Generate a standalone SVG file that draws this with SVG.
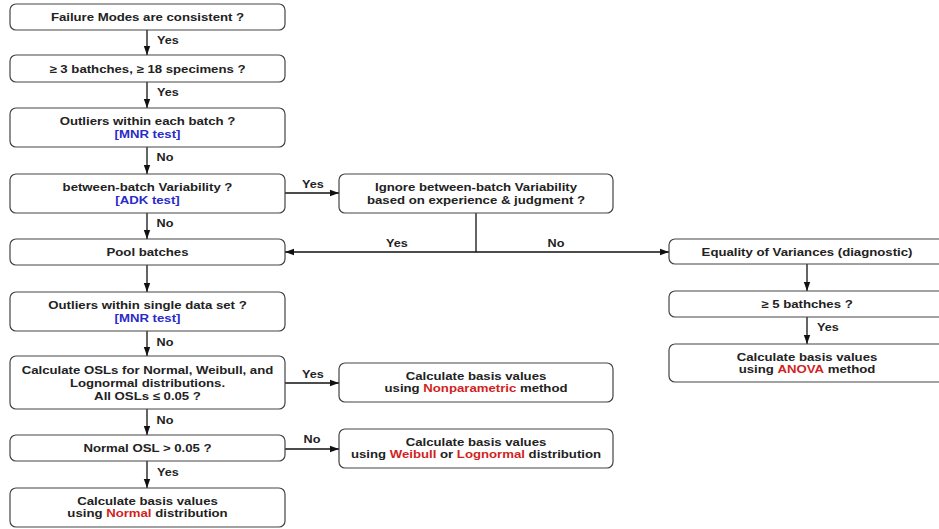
<svg xmlns="http://www.w3.org/2000/svg" width="939" height="529" viewBox="0 0 939 529">
<defs>
<marker id="ah" markerWidth="10" markerHeight="8" refX="9" refY="4" orient="auto" markerUnits="userSpaceOnUse">
<path d="M0,0.8 L9,4 L0,7.2 Z" fill="#111"/>
</marker>
<style>
.box{fill:#fff;stroke:#444;stroke-width:1.2}
.t{font-family:"Liberation Sans",Arial,sans-serif;font-size:11px;font-weight:bold;fill:#222;text-anchor:middle}
.l{font-family:"Liberation Sans",Arial,sans-serif;font-size:11px;font-weight:bold;fill:#222;text-anchor:middle}
.b{fill:#2a2ac8}
.r{fill:#d21f1f}
.c{fill:none;stroke:#111;stroke-width:1.3}
.ca{fill:none;stroke:#111;stroke-width:1.3;marker-end:url(#ah)}
</style>
</defs>
<rect width="939" height="529" fill="#fff"/>

<g id="connectors">
<line class="ca" x1="147" y1="30" x2="147" y2="55"/>
<line class="ca" x1="147" y1="82" x2="147" y2="108"/>
<line class="ca" x1="147" y1="147" x2="147" y2="174"/>
<line class="ca" x1="147" y1="213" x2="147" y2="239"/>
<line class="ca" x1="147" y1="265" x2="147" y2="292"/>
<line class="ca" x1="147" y1="331" x2="147" y2="356"/>
<line class="ca" x1="147" y1="409" x2="147" y2="435"/>
<line class="ca" x1="147" y1="461" x2="147" y2="488"/>
<line class="ca" x1="285" y1="193" x2="339" y2="193"/>
<line class="c" x1="476" y1="213" x2="476" y2="252"/>
<line class="ca" x1="476" y1="252" x2="285" y2="252"/>
<line class="ca" x1="476" y1="252" x2="669" y2="252"/>
<line class="ca" x1="285" y1="383" x2="339" y2="383"/>
<line class="ca" x1="285" y1="449" x2="339" y2="449"/>
<line class="ca" x1="807" y1="264" x2="807" y2="291"/>
<line class="ca" x1="807" y1="317" x2="807" y2="344"/>
<text class="l" transform="translate(168,44) scale(1.15,1)">Yes</text>
<text class="l" transform="translate(168,96) scale(1.15,1)">Yes</text>
<text class="l" transform="translate(165,161) scale(1.15,1)">No</text>
<text class="l" transform="translate(165,227) scale(1.15,1)">No</text>
<text class="l" transform="translate(165,346) scale(1.15,1)">No</text>
<text class="l" transform="translate(165,424) scale(1.15,1)">No</text>
<text class="l" transform="translate(168,476) scale(1.15,1)">Yes</text>
<text class="l" transform="translate(313,188) scale(1.15,1)">Yes</text>
<text class="l" transform="translate(397,247) scale(1.15,1)">Yes</text>
<text class="l" transform="translate(556,247) scale(1.15,1)">No</text>
<text class="l" transform="translate(313,378) scale(1.15,1)">Yes</text>
<text class="l" transform="translate(312,443) scale(1.15,1)">No</text>
<text class="l" transform="translate(828,331) scale(1.15,1)">Yes</text>
</g>

<g id="n1"><rect class="box" x="10" y="4" width="275" height="26" rx="6"/>
<text class="t" transform="translate(147.5,21) scale(1.2,1)">Failure Modes are consistent ?</text></g>

<g id="n2"><rect class="box" x="10" y="55" width="275" height="27" rx="6"/>
<text class="t" transform="translate(147.5,72.5) scale(1.2,1)">≥ 3 bathches, ≥ 18 specimens ?</text></g>

<g id="n3"><rect class="box" x="10" y="108" width="275" height="39" rx="6"/>
<text class="t" transform="translate(147.5,125) scale(1.2,1)">Outliers within each batch ?</text>
<text class="t b" transform="translate(147.5,137.5) scale(1.2,1)">[MNR test]</text></g>

<g id="n4"><rect class="box" x="10" y="174" width="275" height="39" rx="6"/>
<text class="t" transform="translate(147.5,191) scale(1.2,1)">between-batch Variability ?</text>
<text class="t b" transform="translate(147.5,203.5) scale(1.2,1)">[ADK test]</text></g>

<g id="n5"><rect class="box" x="339" y="174" width="274" height="39" rx="6"/>
<text class="t" transform="translate(476,191) scale(1.2,1)">Ignore between-batch Variability</text>
<text class="t" transform="translate(476,203.5) scale(1.2,1)">based on experience &amp; judgment ?</text></g>

<g id="n6"><rect class="box" x="10" y="239" width="275" height="26" rx="6"/>
<text class="t" transform="translate(147.5,256) scale(1.2,1)">Pool batches</text></g>

<g id="n7"><rect class="box" x="669" y="239" width="276" height="25" rx="6"/>
<text class="t" transform="translate(807,255.5) scale(1.2,1)">Equality of Variances (diagnostic)</text></g>

<g id="n8"><rect class="box" x="10" y="292" width="275" height="39" rx="6"/>
<text class="t" transform="translate(147.5,309) scale(1.2,1)">Outliers within single data set ?</text>
<text class="t b" transform="translate(147.5,321.5) scale(1.2,1)">[MNR test]</text></g>

<g id="n9"><rect class="box" x="669" y="291" width="276" height="26" rx="6"/>
<text class="t" transform="translate(807,308) scale(1.2,1)">≥ 5 bathches ?</text></g>

<g id="n10"><rect class="box" x="669" y="344" width="276" height="38" rx="6"/>
<text class="t" transform="translate(807,360.5) scale(1.2,1)">Calculate basis values</text>
<text class="t" transform="translate(807,373) scale(1.2,1)">using <tspan class="r">ANOVA</tspan> method</text></g>

<g id="n11"><rect class="box" x="10" y="356" width="275" height="53" rx="6"/>
<text class="t" transform="translate(147.5,374) scale(1.2,1)">Calculate OSLs for Normal, Weibull, and</text>
<text class="t" transform="translate(147.5,387) scale(1.2,1)">Lognormal distributions.</text>
<text class="t" transform="translate(147.5,399.5) scale(1.2,1)">All OSLs ≤ 0.05 ?</text></g>

<g id="n12"><rect class="box" x="339" y="363" width="274" height="39" rx="6"/>
<text class="t" transform="translate(476,379.5) scale(1.2,1)">Calculate basis values</text>
<text class="t" transform="translate(476,392) scale(1.2,1)">using <tspan class="r">Nonparametric</tspan> method</text></g>

<g id="n13"><rect class="box" x="10" y="435" width="275" height="26" rx="6"/>
<text class="t" transform="translate(147.5,452) scale(1.2,1)">Normal OSL &gt; 0.05 ?</text></g>

<g id="n14"><rect class="box" x="339" y="429" width="274" height="39" rx="6"/>
<text class="t" transform="translate(476,445.5) scale(1.2,1)">Calculate basis values</text>
<text class="t" transform="translate(476,458) scale(1.2,1)">using <tspan class="r">Weibull</tspan> or <tspan class="r">Lognormal</tspan> distribution</text></g>

<g id="n15"><rect class="box" x="10" y="488" width="275" height="39" rx="6"/>
<text class="t" transform="translate(147.5,504.5) scale(1.2,1)">Calculate basis values</text>
<text class="t" transform="translate(147.5,517) scale(1.2,1)">using <tspan class="r">Normal</tspan> distribution</text></g>
</svg>
